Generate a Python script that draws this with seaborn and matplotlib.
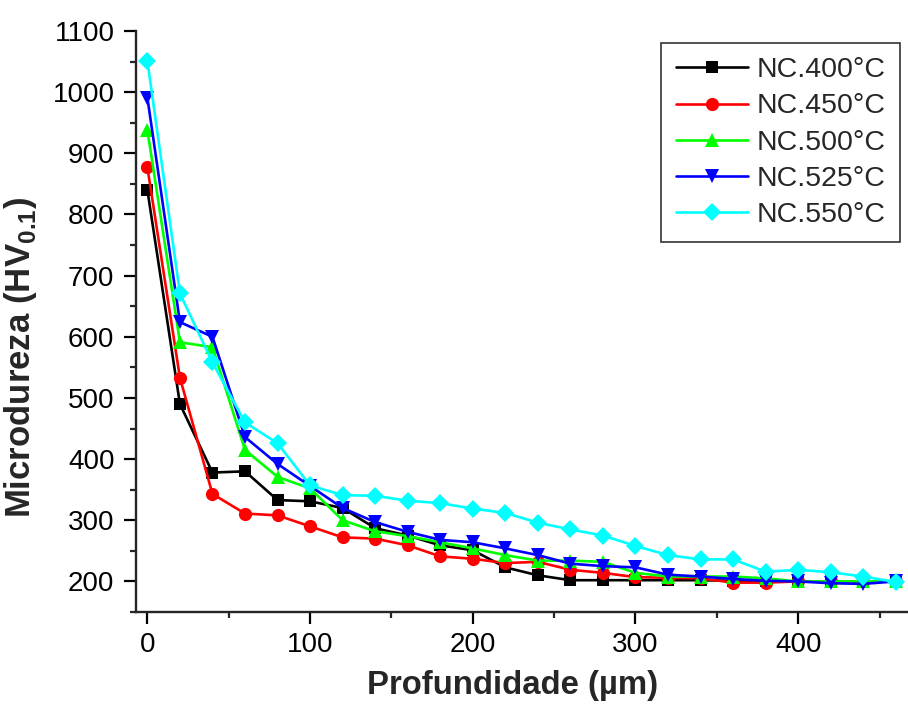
import numpy as np
import pandas as pd
import matplotlib
matplotlib.use("Agg")
import matplotlib.pyplot as plt
from matplotlib.ticker import MultipleLocator
import seaborn as sns

# Depth below the nitrided surface (µm)
depth = list(range(0, 461, 20))

# Microhardness profiles (HV0.1) for each nitriding temperature
nc_400 = [840, 490, 378, 380, 333, 331, 320, 287, 275, 259, 251, 223,
          210, 202, 202, 202, 202, 202, 201, 200, 200, 200, 200, 200]
nc_450 = [877, 533, 343, 311, 308, 290, 272, 270, 259, 241, 237, 230,
          232, 219, 214, 207, 206, 205, 198, 198, 200, 200, 200, 200]
nc_500 = [938, 591, 583, 415, 371, 352, 300, 282, 274, 264, 254, 243,
          234, 234, 232, 214, 208, 208, 208, 205, 200, 200, 200, 200]
nc_525 = [991, 624, 600, 436, 392, 356, 320, 297, 281, 268, 264, 254,
          243, 229, 225, 223, 211, 208, 204, 201, 200, 197, 196, 200]
nc_550 = [1051, 671, 558, 460, 426, 357, 341, 340, 332, 328, 319, 312,
          296, 285, 275, 258, 243, 236, 236, 216, 219, 215, 208, 199]

labels = ["NC.400°C", "NC.450°C", "NC.500°C", "NC.525°C", "NC.550°C"]
series = [nc_400, nc_450, nc_500, nc_525, nc_550]

colors = ["#000000", "#FF0000", "#00FF00", "#0000FF", "#00FFFF"]
markers = ["s", "o", "^", "v", "D"]
msizes = [9, 9.5, 10.5, 10.5, 9.5]

sns.set_style("ticks")
plt.rcParams["font.family"] = ["Liberation Sans", "DejaVu Sans"]
plt.rcParams["mathtext.fontset"] = "custom"
plt.rcParams["mathtext.rm"] = "Liberation Sans"
plt.rcParams["mathtext.bf"] = "Liberation Sans:bold"

frames = [pd.DataFrame({"depth": depth, "hv": vals, "sample": lab})
          for lab, vals in zip(labels, series)]
df = pd.concat(frames, ignore_index=True)

fig = plt.figure(figsize=(9.08, 7.04), dpi=100)
ax = fig.add_axes([136 / 908, 1 - 612 / 704, 1 - 136 / 908, (612 - 31) / 704])

for lab, col, mk, ms in zip(labels, colors, markers, msizes):
    sns.lineplot(data=df[df["sample"] == lab], x="depth", y="hv", ax=ax,
                 color=col, marker=mk, markersize=ms, markeredgewidth=0,
                 linewidth=1.9, label=lab, sort=False, estimator=None)

ax.set_xlim(-7, 467.5)
ax.set_ylim(150, 1100)
ax.xaxis.set_major_locator(MultipleLocator(100))
ax.xaxis.set_minor_locator(MultipleLocator(50))
ax.yaxis.set_major_locator(MultipleLocator(100))
ax.yaxis.set_minor_locator(MultipleLocator(50))

for side in ["top", "right"]:
    ax.spines[side].set_visible(False)
for side in ["left", "bottom"]:
    ax.spines[side].set_linewidth(1.7)

ax.tick_params(axis="both", which="major", direction="out", length=8.5,
               width=1.6, labelsize=20, colors="black")
ax.tick_params(axis="both", which="minor", direction="out", length=4.5,
               width=1.6)
ax.tick_params(axis="x", which="major", pad=6)
ax.tick_params(axis="y", which="major", pad=7)

ax.set_xlabel("Profundidade (µm)", fontsize=23.7, fontweight="bold")
ax.set_ylabel(r"Microdureza (HV$_{\mathbf{0.1}}$)", fontsize=25,
              fontweight="bold")
ax.xaxis.set_label_coords(0.4877, -0.100)
ax.yaxis.set_label_coords(-0.125, 0.438)

leg = ax.legend(loc="upper right", bbox_to_anchor=(900 / 908, 1 - 43 / 704),
                bbox_transform=fig.transFigure, fontsize=20.5, frameon=True,
                fancybox=False, edgecolor="black", handlelength=2.55,
                handletextpad=0.3, labelspacing=0.36, borderpad=0.5,
                borderaxespad=0)
leg.get_frame().set_linewidth(1.2)

fig.savefig("out.png", dpi=100)
